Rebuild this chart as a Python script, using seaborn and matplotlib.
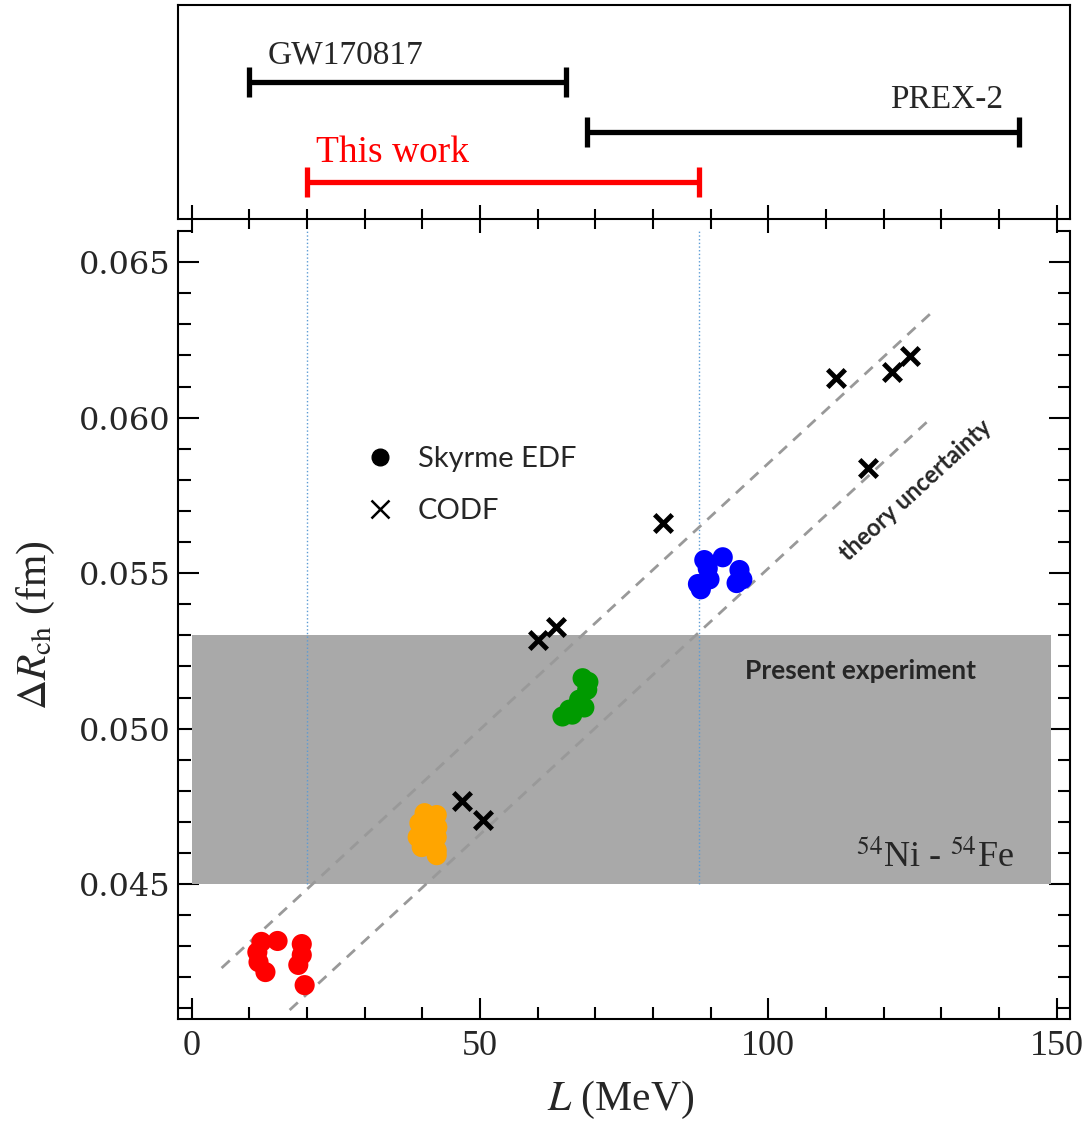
import numpy as np
import pandas as pd
import matplotlib
matplotlib.use("Agg")
import matplotlib.pyplot as plt
from matplotlib.ticker import MultipleLocator, FormatStrFormatter
from matplotlib.lines import Line2D
import seaborn as sns

# Skyrme EDF points (L in MeV, Delta R_ch in fm)
red_L = [12.1, 14.9, 11.6, 12.8, 11.4, 19.1, 19.1, 18.5, 19.6]
red_R = [0.04314, 0.04317, 0.04249, 0.04217, 0.04281, 0.04307, 0.04272, 0.04240, 0.04175]
orange_L = [40.4, 42.5, 39.5, 42.6, 39.2, 42.5, 39.9, 42.5, 42.5, 41.0]
orange_R = [0.04728, 0.04722, 0.04696, 0.04683, 0.04651, 0.04651, 0.04619, 0.04609, 0.04593, 0.04670]
green_L = [67.8, 68.8, 68.6, 67.2, 65.5, 64.3, 68.1, 66.0, 67.0]
green_R = [0.05162, 0.05150, 0.05125, 0.05093, 0.05061, 0.05039, 0.05068, 0.05045, 0.05075]
blue_L = [88.9, 89.5, 92.1, 95.0, 95.5, 94.5, 87.8, 88.3, 89.8]
blue_R = [0.05542, 0.05515, 0.05551, 0.05510, 0.05480, 0.05468, 0.05465, 0.05448, 0.05480]

# CODF points
codf_L = [60.0, 63.1, 46.8, 50.6, 81.8, 111.8, 121.5, 124.6, 117.3]
codf_R = [0.05285, 0.05326, 0.04767, 0.04706, 0.05661, 0.06127, 0.06146, 0.06198, 0.05838]

# theory uncertainty band edges
upper_L = [5.2, 128.2]
upper_R = [0.0423, 0.06336]
lower_L = [17.0, 128.2]
lower_R = [0.04095, 0.05998]

# experimental band and L constraints
exp_R = [0.0450, 0.0530]
exp_L = [0.0, 149.0]
this_work = [20.0, 88.0]
constraints = ["GW170817", "PREX-2", "This work"]
constraint_lo = [10.0, 68.5, 20.0]
constraint_hi = [65.0, 143.5, 88.0]
constraint_level = [3.0, 2.0, 1.0]
constraint_color = ["black", "black", "red"]

sns.set_theme(style="ticks")
plt.rcParams["font.family"] = ["Liberation Serif", "DejaVu Serif"]
plt.rcParams["mathtext.fontset"] = "stix"

df = pd.DataFrame({
    "L": red_L + orange_L + green_L + blue_L,
    "R": red_R + orange_R + green_R + blue_R,
    "group": (["red"] * len(red_L) + ["orange"] * len(orange_L)
              + ["green"] * len(green_L) + ["blue"] * len(blue_L)),
})
palette = {"red": "#ff0000", "orange": "#ffa500", "green": "#009a00", "blue": "#0000ff"}
codf = pd.DataFrame({"L": codf_L, "R": codf_R})

fig = plt.figure(figsize=(10.84, 11.24), dpi=100)
ax = fig.add_axes([0.164, 0.0934, 0.823, 0.7010])
axt = fig.add_axes([0.164, 0.8052, 0.823, 0.1904])

# ---- main panel
ax.fill_between(exp_L, exp_R[0], exp_R[1], color="#a9a9a9", lw=0, zorder=1)
for xv in this_work:
    ax.plot([xv, xv], [exp_R[0], 0.066], ls=":", color="#5b9bd5", lw=1.0, zorder=2)
ax.plot(upper_L, upper_R, ls=(0, (4, 3)), color="#999999", lw=2, zorder=2)
ax.plot(lower_L, lower_R, ls=(0, (4, 3)), color="#999999", lw=2, zorder=2)

sns.scatterplot(data=df, x="L", y="R", hue="group", palette=palette, s=210,
                linewidth=0, legend=False, ax=ax, zorder=3)
sns.scatterplot(data=codf, x="L", y="R", marker="x", color="black", s=160,
                linewidth=3.5, legend=False, ax=ax, zorder=4)

ax.set_xlim(-2.4, 152.3)
ax.set_ylim(0.04066, 0.066)
ax.xaxis.set_major_locator(MultipleLocator(50))
ax.xaxis.set_minor_locator(MultipleLocator(10))
ax.yaxis.set_major_locator(MultipleLocator(0.005))
ax.yaxis.set_minor_locator(MultipleLocator(0.001))
ax.yaxis.set_major_formatter(FormatStrFormatter("%.3f"))
ax.tick_params(which="both", direction="in", left=True, right=True, bottom=True,
               top=False, width=1.5, color="black")
ax.tick_params(which="major", length=15)
ax.tick_params(which="minor", length=9)
ax.tick_params(axis="x", labelsize=26, pad=8)
ax.tick_params(axis="y", labelsize=23, pad=5)
for lbl in ax.get_yticklabels():
    lbl.set_fontfamily("DejaVu Serif")
ax.spines["top"].set_visible(False)
for s in ["left", "right", "bottom"]:
    ax.spines[s].set_linewidth(1.5)
    ax.spines[s].set_color("black")

ax.set_xlabel(r"$L$ (MeV)", fontsize=30)
ax.set_ylabel(r"$\Delta \mathit{R}_{\mathrm{ch}}$ (fm)", fontsize=30)
ax.xaxis.set_label_coords(0.496, -0.076)
ax.yaxis.set_label_coords(-0.135, 0.50)

ax.text(116, 0.05185, "Present experiment", family="Lato", fontweight="bold",
        fontsize=19, ha="center", va="center", zorder=5)
ax.text(125.5, 0.05767, "theory uncertainty", family="Lato", fontweight="bold",
        fontsize=17, ha="center", va="center", rotation=42.5,
        rotation_mode="anchor", zorder=5)
ax.text(142.6, 0.04584, r"$^{54}$Ni - $^{54}$Fe", fontsize=26, ha="right",
        va="center", zorder=5)

handles = [
    Line2D([], [], ls="none", marker="o", color="black", markersize=12),
    Line2D([], [], ls="none", marker="x", color="black", markersize=13, mew=1.8),
]
ax.legend(handles, ["Skyrme EDF", "CODF"], loc="upper left",
          bbox_to_anchor=(0.210, 0.727), frameon=False, borderpad=0,
          borderaxespad=0, handlelength=1.0, handletextpad=0.8,
          labelspacing=0.9, prop={"family": "Lato", "size": 21})

# ---- top panel with L constraints
for name, lo, hi, lev, col in zip(constraints, constraint_lo, constraint_hi,
                                  constraint_level, constraint_color):
    axt.errorbar((lo + hi) / 2, lev, xerr=(hi - lo) / 2, color=col, lw=3.8,
                 capsize=11, capthick=3.8, fmt="none")
axt.text(13.2, 3.54, "GW170817", fontsize=24, ha="left", va="center")
axt.text(140.7, 2.64, "PREX-2", fontsize=24, ha="right", va="center")
axt.text(21.5, 1.58, "This work", fontsize=27, color="red", ha="left", va="center")

axt.set_xlim(-2.4, 152.3)
axt.set_ylim(0.26, 4.54)
axt.set_yticks([])
axt.xaxis.set_major_locator(MultipleLocator(50))
axt.xaxis.set_minor_locator(MultipleLocator(10))
axt.tick_params(axis="x", which="both", direction="inout", bottom=True,
                top=False, labelbottom=False, width=1.5, color="black")
axt.tick_params(axis="x", which="major", length=20)
axt.tick_params(axis="x", which="minor", length=14)
for s in axt.spines.values():
    s.set_linewidth(1.5)
    s.set_color("black")

fig.savefig("out.png", dpi=100)
